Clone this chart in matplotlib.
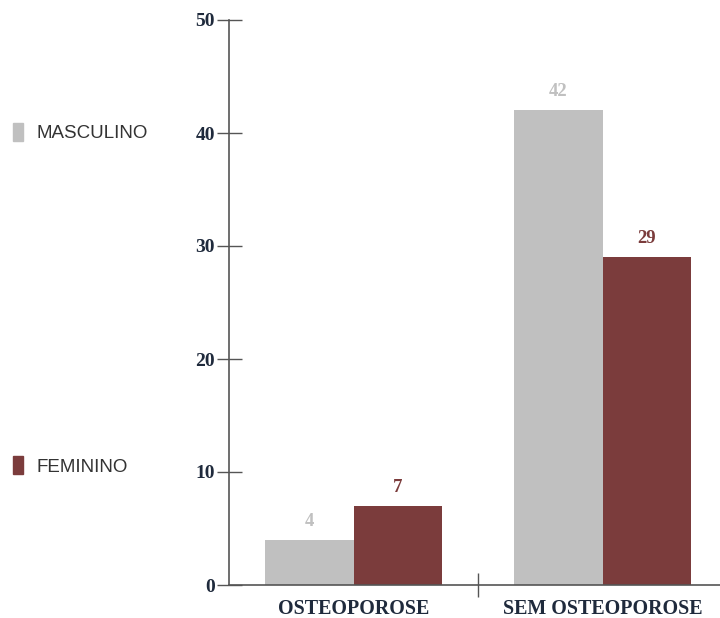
import matplotlib
matplotlib.use("Agg")
import matplotlib.pyplot as plt
import numpy as np

categories = ["OSTEOPOROSE", "SEM OSTEOPOROSE"]
series_names = ["MASCULINO", "FEMININO"]
masculino = [4, 42]
feminino = [7, 29]
y_ticks = [0, 10, 20, 30, 40, 50]

grey = "#c0c0c0"
red = "#7b3c3c"
axis_col = "#555555"
text_col = "#1f2a3c"
serif = ["Liberation Serif", "DejaVu Serif"]

fig = plt.figure(figsize=(7.2, 6.18), dpi=100)
ax = fig.add_axes([229 / 720, 33 / 618, 491 / 720, 565 / 618])

x = np.arange(len(categories))
w = 0.355
b1 = ax.bar(x - w / 2, masculino, w, color=grey)
b2 = ax.bar(x + w / 2, feminino, w, color=red)

for rect, v in zip(b1, masculino):
    ax.text(rect.get_x() + rect.get_width() / 2, v + 0.9, str(v),
            ha="center", va="bottom", color=grey, fontsize=13.5,
            fontweight="bold", family=serif)
for rect, v in zip(b2, feminino):
    ax.text(rect.get_x() + rect.get_width() / 2, v + 0.9, str(v),
            ha="center", va="bottom", color=red, fontsize=13.5,
            fontweight="bold", family=serif)

ax.set_ylim(0, 50)
ax.set_xlim(-0.5, -0.5 + 491 / 249)
ax.set_yticks(y_ticks)
ax.set_yticklabels([str(t) for t in y_ticks], family=serif,
                   fontweight="bold", fontsize=14, color=text_col)

ax.set_xticks([0.5])
ax.set_xticklabels([""])
ax.set_xticks(x, minor=True)
ax.set_xticklabels(categories, minor=True, family=serif,
                   fontweight="bold", fontsize=14.4, color=text_col)
ax.tick_params(axis="x", which="minor", length=0, pad=10)
ax.tick_params(axis="x", which="major", direction="inout", length=17,
               width=1, color=axis_col)
ax.tick_params(axis="y", direction="inout", length=18, width=1,
               color=axis_col, pad=1)

for s in ["top", "right"]:
    ax.spines[s].set_visible(False)
for s in ["left", "bottom"]:
    ax.spines[s].set_color(axis_col)
    ax.spines[s].set_linewidth(1.2)
ax.spines["left"].set_zorder(0)

# legend drawn as squares with labels on the left margin
for name, col, ypix in [(series_names[0], grey, 132), (series_names[1], red, 465)]:
    fig.patches.append(plt.Rectangle((13 / 720, 1 - (ypix + 9) / 618), 10 / 720, 18 / 618,
                                     transform=fig.transFigure, color=col))
    fig.text(36 / 720, 1 - (ypix + 2) / 618, name, ha="left", va="center",
             fontsize=13.5, color="#333333", family=["Liberation Sans", "DejaVu Sans"])

fig.savefig("out.png", dpi=100)
